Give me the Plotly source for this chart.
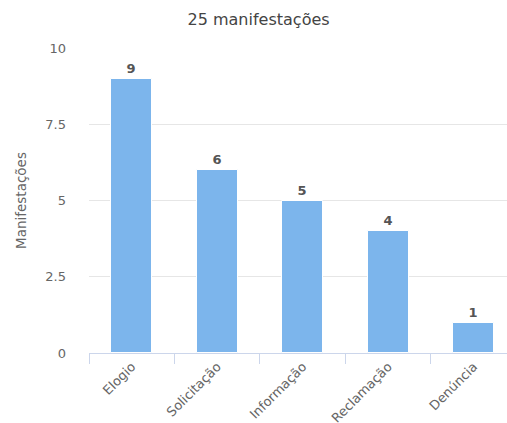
import plotly.graph_objects as go

categories = ["Elogio", "Solicitação", "Informação", "Reclamação", "Denúncia"]
values = [9, 6, 5, 4, 1]
title_text = "25 manifestações"
y_title = "Manifestações"
y_ticks = [0, 2.5, 5, 7.5, 10]
y_tick_labels = ["0", "2.5", "5", "7.5", "10"]

FONT = "DejaVu Sans"

fig = go.Figure(
    go.Bar(
        x=categories,
        y=values,
        width=0.48,
        marker=dict(color="#7cb5ec", line=dict(color="#ffffff", width=1)),
        text=[f"<b>{v}</b>" for v in values],
        textposition="outside",
        cliponaxis=False,
        textfont=dict(family=FONT, size=13, color="#555555"),
    )
)

fig.update_layout(
    width=507,
    height=423,
    margin=dict(l=89, r=0, t=48, b=70),
    plot_bgcolor="#ffffff",
    paper_bgcolor="#ffffff",
    showlegend=False,
    font=dict(family=FONT, color="#666666"),
    title=dict(
        text=title_text,
        x=0.51,
        xanchor="center",
        y=0.955,
        yanchor="middle",
        font=dict(family=FONT, size=16, color="#444444"),
    ),
    bargap=0,
)

fig.update_xaxes(
    range=[-0.5, 4.39],
    automargin=False,
    showline=True,
    linecolor="#ccd6eb",
    linewidth=1,
    ticks="outside",
    tickson="boundaries",
    ticklen=10,
    tickcolor="#ccd6eb",
    tickangle=-45,
    tickfont=dict(family=FONT, size=13, color="#666666"),
    showgrid=False,
)

fig.update_yaxes(
    range=[0, 10],
    automargin=False,
    tickvals=y_ticks,
    ticktext=y_tick_labels,
    tickfont=dict(family=FONT, size=13, color="#666666"),
    gridcolor="#e6e6e6",
    zeroline=False,
    ticks="",
    ticklabelstandoff=22,
    title=dict(text=y_title, font=dict(family=FONT, size=13.5, color="#666666"), standoff=15),
)

fig.write_html("out.html")
